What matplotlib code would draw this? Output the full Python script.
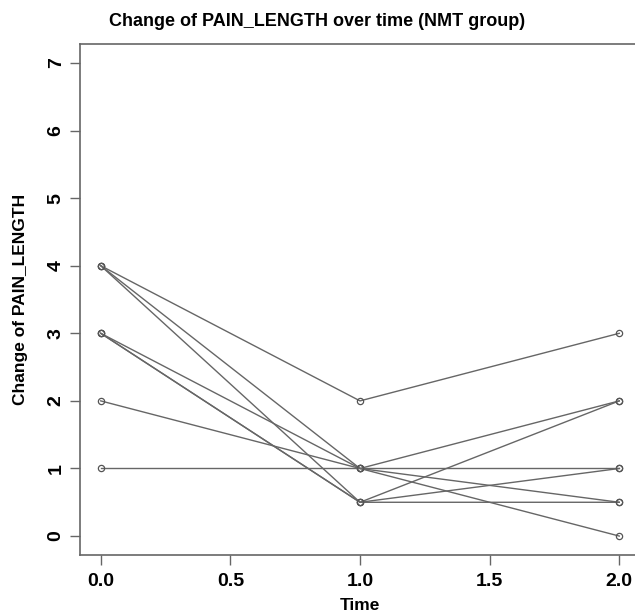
import matplotlib
matplotlib.use("Agg")
import matplotlib.pyplot as plt

plt.rcParams['font.family'] = ['Liberation Sans', 'DejaVu Sans']

times = [0.0, 1.0, 2.0]
# one row per subject: values at time 0, 1, 2
subjects = [
    [4, 2, 3],
    [4, 1, 0],
    [4, 0.5, 2],
    [3, 1, 2],
    [3, 0.5, 1],
    [3, 0.5, 0.5],
    [2, 1, 0.5],
    [1, 1, 1],
]
xticks = [0.0, 0.5, 1.0, 1.5, 2.0]
yticks = [0, 1, 2, 3, 4, 5, 6, 7]

fig = plt.figure(figsize=(6.35, 6.15), dpi=100)
ax = fig.add_axes([80/635, 60/615, 560/635, 511/615])

for s in subjects:
    ax.plot(times, s, color='#666666', lw=1.0, marker='o', ms=4.5,
            mfc='none', mec='#555555', mew=0.9)

ax.set_xlim(-0.08, 2.08)
ax.set_ylim(-0.28, 7.28)
ax.set_xticks(xticks)
ax.set_xticklabels([f"{t:.1f}" for t in xticks], fontsize=14, fontweight='bold')
ax.set_yticks(yticks)
ax.set_yticklabels([str(t) for t in yticks], fontsize=14, fontweight='bold',
                   rotation=90, va='center')
ax.tick_params(axis='x', direction='out', length=7, color='#666666', width=1.0, pad=6)
ax.tick_params(axis='y', direction='out', length=7, color='#666666', width=1.0, pad=4)
for sp in ax.spines.values():
    sp.set_color('#666666')
    sp.set_linewidth(1.2)

fig.text(0.5, 1 - 21/615, "Change of PAIN_LENGTH over time (NMT group)",
         fontsize=13, fontweight='bold', ha='center', va='center')
ax.set_xlabel("Time", fontsize=12.5, fontweight='bold', labelpad=6)
ax.set_ylabel("Change of PAIN_LENGTH", fontsize=12.5, fontweight='bold', labelpad=14)

fig.savefig("out.png", dpi=100)
